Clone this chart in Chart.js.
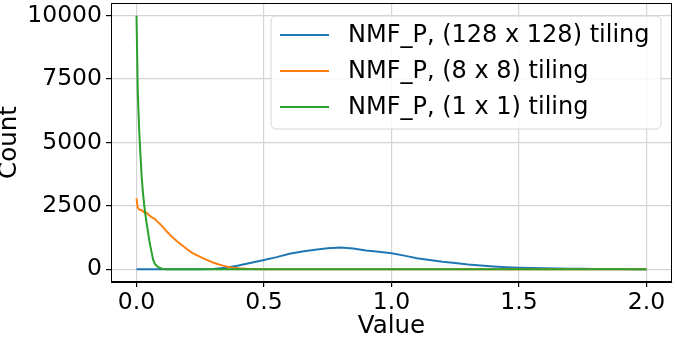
<!DOCTYPE html>
<html>
<head>
<meta charset="utf-8">
<script src="https://cdn.jsdelivr.net/npm/chart.js@4"></script>
<style>
  html, body { margin: 0; padding: 0; background: #fff; }
  #caja { width: 677px; height: 341px; }
</style>
</head>
<body>
<div id="caja"><canvas id="grafico" width="677" height="341"></canvas></div>
<script>
// Histogram counts
const azulX = [0, 0.05, 0.1, 0.15, 0.2, 0.25, 0.3, 0.35, 0.4, 0.45, 0.5, 0.55, 0.6, 0.65, 0.7, 0.75, 0.8, 0.85, 0.9, 0.95,
  1.0, 1.05, 1.1, 1.15, 1.2, 1.25, 1.3, 1.35, 1.4, 1.45, 1.5, 1.55, 1.6, 1.65, 1.7, 1.75, 1.8, 1.85, 1.9, 1.95, 2.0]
const azulY = [0, 0, 0, 0, 0, 2, 10, 60, 150, 260, 365, 480, 610, 700, 770, 830, 860, 820, 740, 690,
  630, 540, 440, 370, 300, 250, 190, 150, 115, 85, 65, 50, 40, 30, 25, 18, 14, 10, 8, 6, 5]

const naranjaX = [0, 0.004, 0.01, 0.02, 0.03, 0.04, 0.05, 0.06, 0.07, 0.08, 0.09, 0.1, 0.12, 0.14, 0.16, 0.18, 0.2,
  0.22, 0.24, 0.26, 0.28, 0.3, 0.32, 0.34, 0.36, 0.38, 0.4, 0.43, 0.46, 0.5, 0.6, 1.0, 1.5, 2.0]
const naranjaY = [2800, 2450, 2360, 2330, 2250, 2220, 2130, 2050, 2000, 1900, 1810, 1700, 1480, 1270, 1100, 940, 780,
  640, 540, 440, 350, 270, 200, 145, 95, 60, 40, 22, 12, 5, 1, 0, 0, 0]

const verdeX = [0, 0.005, 0.01, 0.015, 0.02, 0.025, 0.03, 0.035, 0.04, 0.045, 0.05, 0.055, 0.06, 0.065, 0.07, 0.075,
  0.08, 0.09, 0.1, 0.11, 0.12, 0.5, 1.0, 1.5, 2.0]
const verdeY = [10000, 7000, 5600, 4600, 3700, 3050, 2550, 2150, 1800, 1480, 1150, 880, 640, 390, 260, 180,
  130, 60, 25, 10, 0, 0, 0, 0, 0]

const etiquetas = ['NMF_P, (128 x 128) tiling', 'NMF_P, (8 x 8) tiling', 'NMF_P, (1 x 1) tiling']
const colores = ['#1f77b4', '#ff7f0e', '#2ca02c']
const ticksX = [0, 0.5, 1.0, 1.5, 2.0]
const ticksY = [0, 2500, 5000, 7500, 10000]

const puntos = (xs, ys) => xs.map((x, i) => ({ x: x, y: ys[i] }))

// full box around the plot, like matplotlib spines
const marco = {
  id: 'marco',
  afterDatasetsDraw(chart) {
    const { ctx, chartArea: a } = chart
    ctx.save()
    ctx.strokeStyle = '#000'
    ctx.lineWidth = 1
    ctx.strokeRect(Math.round(a.left) + 0.5, Math.round(a.top) + 0.5,
      Math.round(a.right - a.left) - 1, Math.round(a.bottom - a.top) - 1)
    ctx.restore()
  }
}

// legend box in the upper right corner
const leyenda = {
  id: 'leyenda',
  afterDraw(chart) {
    const ctx = chart.ctx
    const x = 271, y = 16, w = 390, h = 113, r = 5
    ctx.save()
    ctx.beginPath()
    ctx.moveTo(x + r, y)
    ctx.arcTo(x + w, y, x + w, y + h, r)
    ctx.arcTo(x + w, y + h, x, y + h, r)
    ctx.arcTo(x, y + h, x, y, r)
    ctx.arcTo(x, y, x + w, y, r)
    ctx.closePath()
    ctx.fillStyle = 'rgba(255,255,255,0.8)'
    ctx.fill()
    ctx.strokeStyle = '#d6d6d6'
    ctx.lineWidth = 1
    ctx.stroke()
    ctx.font = '24px "DejaVu Sans"'
    ctx.textBaseline = 'middle'
    etiquetas.forEach((t, i) => {
      const ly = 35 + i * 36
      ctx.strokeStyle = colores[i]
      ctx.lineWidth = 2
      ctx.beginPath()
      ctx.moveTo(280, ly)
      ctx.lineTo(329, ly)
      ctx.stroke()
      ctx.fillStyle = '#000'
      ctx.fillText(t, 348, ly + 1)
    })
    ctx.restore()
  }
}

const rejilla = {
  color: '#d4d4d4',
  lineWidth: 1.2,
  tickColor: '#000',
  tickLength: 5
}

// no extra room for overhanging tick labels
const sinRelleno = s => {
  s.paddingTop = 0
  s.paddingBottom = 0
  s.paddingLeft = 0
  s.paddingRight = 0
}

new Chart(document.getElementById('grafico'), {
  type: 'line',
  data: {
    datasets: [
      { label: etiquetas[0], data: puntos(azulX, azulY), borderColor: colores[0], order: 2 },
      { label: etiquetas[1], data: puntos(naranjaX, naranjaY), borderColor: colores[1], order: 1 },
      { label: etiquetas[2], data: puntos(verdeX, verdeY), borderColor: colores[2], order: 0 }
    ]
  },
  options: {
    responsive: false,
    animation: false,
    layout: { autoPadding: false, padding: { top: 3, right: 5, left: 0, bottom: 0 } },
    elements: {
      point: { radius: 0 },
      line: { borderWidth: 2, tension: 0 }
    },
    plugins: {
      legend: { display: false },
      tooltip: { enabled: false }
    },
    scales: {
      x: {
        type: 'linear',
        min: -0.1,
        max: 2.1,
        afterBuildTicks: s => { s.ticks = ticksX.map(v => ({ value: v })) },
        afterFit: s => { s.height = 59; sinRelleno(s) },
        grid: rejilla,
        border: { color: '#000' },
        ticks: {
          color: '#000',
          padding: 2,
          maxRotation: 0,
          font: { family: 'DejaVu Sans', size: 23.5 },
          callback: v => v.toFixed(1)
        },
        title: {
          display: true,
          text: 'Value',
          color: '#000',
          padding: { top: 0, bottom: 1 },
          font: { family: 'DejaVu Sans', size: 24.5, lineHeight: 1.1 }
        }
      },
      y: {
        min: -500,
        max: 10500,
        afterBuildTicks: s => { s.ticks = ticksY.map(v => ({ value: v })) },
        afterFit: s => { s.width = 111; sinRelleno(s) },
        grid: rejilla,
        border: { color: '#000' },
        ticks: {
          color: '#000',
          padding: 4,
          font: { family: 'DejaVu Sans', size: 23.5 },
          callback: v => String(v)
        },
        title: {
          display: true,
          text: 'Count',
          color: '#000',
          padding: { top: 0, bottom: 0 },
          font: { family: 'DejaVu Sans', size: 24.5, lineHeight: 0.8 }
        }
      }
    }
  },
  plugins: [marco, leyenda]
})
</script>
</body>
</html>
